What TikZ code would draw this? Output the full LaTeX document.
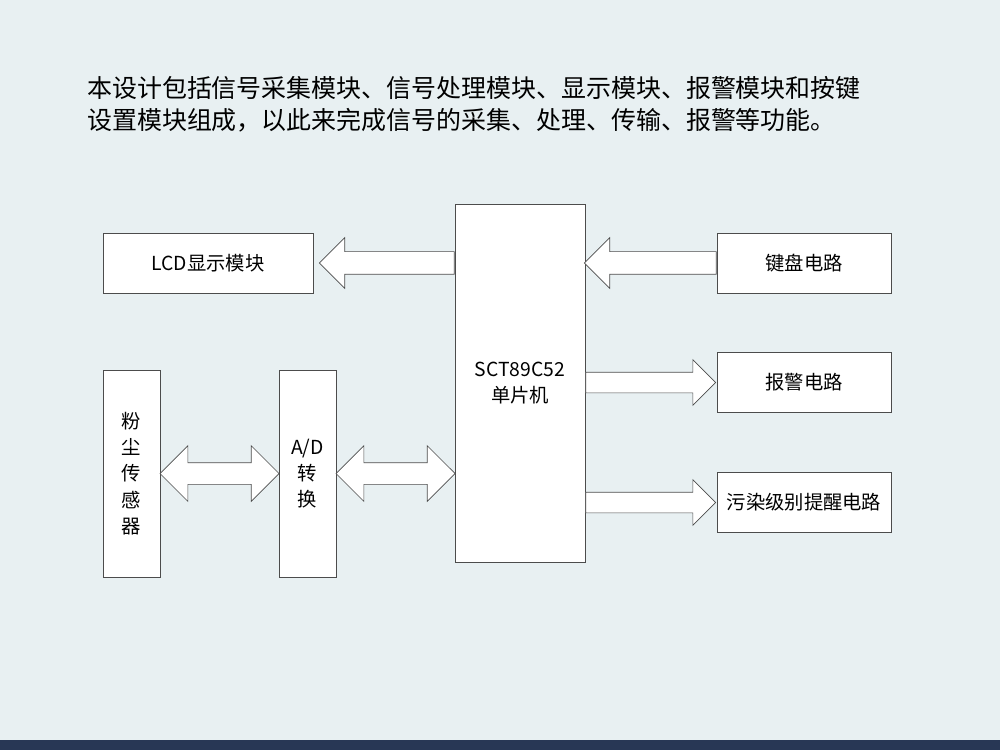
\documentclass[tikz,border=0pt]{standalone}
\usepackage{fontspec}
\setmainfont{Liberation Serif}
\newfontfamily\cjk{Noto Sans CJK SC}
\usetikzlibrary{shapes.arrows,positioning,calc}

\begin{document}
\begin{tikzpicture}[
			every node/.style={font=\cjk\fontsize{11}{15}\selectfont},
			block/.style={rectangle, draw=black!70, fill=white, text centered},
			sarrow/.style={single arrow, draw=black!70, fill=white, inner xsep=0pt, inner ysep=0.22cm,
				single arrow head extend=0.28cm,
				single arrow head indent=0pt, text width=0pt, anchor=tail},
			darrow/.style={double arrow, draw=black!70, fill=white, inner xsep=0pt, inner ysep=0.21cm,
				double arrow head extend=0.34cm,
				double arrow head indent=0pt, text width=0pt}
			]
			
			% 背景
			\fill[fill={rgb,255:red,232;green,240;blue,242}] (0,0) rectangle (20,15);
			\fill[fill={rgb,255:red,40;green,55;blue,85}] (0,0) rectangle (20,0.2);
			\useasboundingbox (0,0) rectangle (20,15);
			
			% 说明文字
			\node (title) [anchor=north west, align=left, font=\cjk\fontsize{14.2}{18.5}\selectfont] at (1.62,13.6)
				{本设计包括信号采集模块、信号处理模块、显示模块、报警模块和按键\\设置模块组成，以此来完成信号的采集、处理、传输、报警等功能。};
			
			% 节点定义
			\node (MCU) [block, minimum width=2.6cm, minimum height=7.16cm, align=center] at (10.4,7.34) {SCT89C52\\单片机};
			\node (LCD) [block, minimum width=4.2cm, minimum height=1.2cm] at (4.16,9.74) {LCD显示模块};
			\node (KEY) [block, minimum width=3.48cm, minimum height=1.2cm] at (16.08,9.74) {键盘电路};
			\node (ALM) [block, minimum width=3.48cm, minimum height=1.2cm] at (16.08,7.35) {报警电路};
			\node (POL) [block, minimum width=3.48cm, minimum height=1.2cm] at (16.08,4.95) {污染级别提醒电路};
			\node (DUST) [block, minimum width=1.14cm, minimum height=4.14cm, align=center] at (2.63,5.53) {粉\\尘\\传\\感\\器};
			\node (AD) [block, minimum width=1.14cm, minimum height=4.14cm, align=center] at (6.15,5.53) {A/D\\转\\换};
			
			% 箭头
			\node (a1) [sarrow, shape border rotate=180, minimum height=2.7cm] at (MCU.west |- LCD) {};
			\node (a2) [sarrow, shape border rotate=180, minimum height=2.64cm] at (KEY.west) {};
			\node (a3) [sarrow, minimum height=2.6cm, inner ysep=0.2cm, single arrow head extend=0.25cm] at (MCU.east |- ALM) {};
			\node (a4) [sarrow, minimum height=2.6cm, inner ysep=0.2cm, single arrow head extend=0.25cm] at (MCU.east |- POL) {};
			\node (d1) [darrow, minimum height=2.38cm] at ($(DUST.east)!0.5!(AD.west)$) {};
			\node (d2) [darrow, minimum height=2.38cm] at ($(AD.east)!0.5!(AD.east -| MCU.west)$) {};
			
		\end{tikzpicture}
\end{document}
